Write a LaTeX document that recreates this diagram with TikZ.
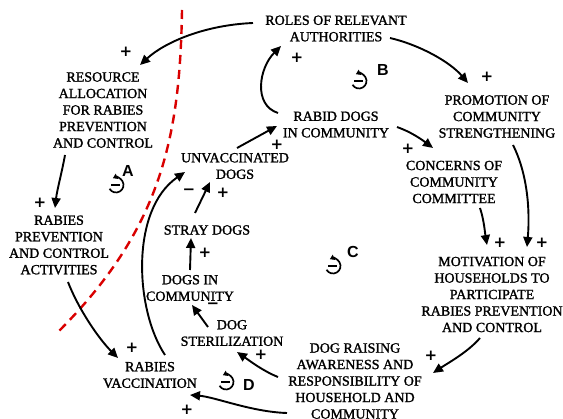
\documentclass[tikz,border=0pt]{standalone}
\usepackage{fontspec}
\setmainfont{Liberation Serif}
\newfontfamily\boxfont[FakeBold=1.5]{Liberation Serif}
\newfontfamily\lblfont{Liberation Sans}
\newfontfamily\sgnfont{DejaVu Sans}
\usetikzlibrary{arrows.meta}
\begin{document}
\begin{tikzpicture}[x=1pt,y=-1pt,
  box/.style={align=center,inner sep=0pt,font=\boxfont\fontsize{14}{16.5}\selectfont,text=black},
  arr/.style={line width=1.9pt,-{Triangle[length=10pt,width=9pt]}},
  sgn/.style={font=\sgnfont\bfseries\fontsize{15}{15}\selectfont,inner sep=0pt},
  lp/.style={font=\lblfont\bfseries\fontsize{16}{16}\selectfont,inner sep=0pt},
  loopsym/.pic={
    \draw[line width=1.7pt,-{Triangle[length=4.5pt,width=5.5pt]}] (150:7.5) arc[start angle=150,end angle=-115,radius=7.5];
    \draw[line width=2pt] (-5,0.5) -- (3.5,0.5);
  }
]
\useasboundingbox (0,0) rectangle (563,419);

% red dashed divider
\draw[red!85!black,line width=2.4pt,dash pattern=on 9pt off 6pt] (182,10) .. controls (180,140) and (160,230) .. (58,332);

% nodes
\node[box] (roles) at (336,28.5) {ROLES OF RELEVANT\\AUTHORITIES};
\node[box] (resource) at (103,110) {RESOURCE\\ALLOCATION\\FOR RABIES\\PREVENTION\\AND CONTROL};
\node[box] (activities) at (59,245) {RABIES\\PREVENTION\\AND CONTROL\\ACTIVITIES};
\node[box] (unvacc) at (235,166) {UNVACCINATED\\DOGS};
\node[box] (rabid) at (336,124.5) {RABID DOGS\\IN COMMUNITY};
\node[box] (promotion) at (497,116.5) {PROMOTION OF\\COMMUNITY\\STRENGTHENING};
\node[box] (concerns) at (454,182) {CONCERNS OF\\COMMUNITY\\COMMITTEE};
\node[box] (motivation) at (492,294.5) {MOTIVATION OF\\HOUSEHOLDS TO\\PARTICIPATE\\RABIES PREVENTION\\AND CONTROL};
\node[box] (dograise) at (355,381) {DOG RAISING\\AWARENESS AND\\RESPONSIBILITY OF\\HOUSEHOLD AND\\COMMUNITY};
\node[box] (vaccination) at (150,375) {RABIES\\VACCINATION};
\node[box] (stray) at (207,230) {STRAY DOGS};
\node[box] (dogsin) at (190,288) {DOGS IN\\COMMUNITY};
\node[box] (steril) at (232,333) {DOG\\STERILIZATION};

% connectors
\draw[arr] ([shift={(-83,-5.5)}]roles.center) .. controls +(-48,2) and +(25,-23) .. ([shift={(37,-45)}]resource.center);
\draw[arr] ([shift={(54,9.5)}]roles.center) .. controls +(30,7) and +(-18,-21) .. ([shift={(-29,-33.5)}]promotion.center);
\draw[arr] ([shift={(-58,-11.5)}]rabid.center) .. controls +(-25,-8) and +(-22,22) .. ([shift={(-55,17.5)}]roles.center);
\draw[arr] ([shift={(2,-18)}]unvacc.center) -- ([shift={(-59,1.5)}]rabid.center);
\draw[arr] ([shift={(61,2.5)}]rabid.center) .. controls +(14,5) and +(-12,-9) .. ([shift={(-21,-34)}]concerns.center);
\draw[arr] ([shift={(16,28.5)}]promotion.center) .. controls +(15,30) and +(3,-35) .. ([shift={(35,-47.5)}]motivation.center);
\draw[arr] ([shift={(26,26)}]concerns.center) .. controls +(4,12) and +(-2,-12) .. ([shift={(-5,-49.5)}]motivation.center);
\draw[arr] ([shift={(-12,43.5)}]motivation.center) .. controls +(-12,14) and +(15,-10) .. ([shift={(78,-8)}]dograise.center);
\draw[arr] ([shift={(-77,-4)}]dograise.center) .. controls +(-15,-6) and +(13,9) .. ([shift={(5,19)}]steril.center);
\draw[arr] ([shift={(-68,32)}]dograise.center) .. controls +(-35,-1) and +(25,2) .. ([shift={(40,20)}]vaccination.center);
\draw[arr] ([shift={(-24,-6)}]steril.center) -- ([shift={(2,17)}]dogsin.center);
\draw[arr] ([shift={(0,-18)}]dogsin.center) -- ([shift={(-16,8)}]stray.center);
\draw[arr] ([shift={(-12,-17)}]stray.center) -- ([shift={(-25,16)}]unvacc.center);
\draw[arr] ([shift={(15,-20)}]vaccination.center) .. controls +(-30,-45) and +(-55,38) .. ([shift={(-50,6)}]unvacc.center);
\draw[arr] ([shift={(9,37)}]activities.center) .. controls +(10,26) and +(-20,-20) .. ([shift={(-32,-17)}]vaccination.center);
\draw[arr] ([shift={(-38,45)}]resource.center) .. controls +(-3,17) and +(2,-18) .. ([shift={(-4,-37)}]activities.center);

% polarity signs
\node[sgn] (s1) at (126,52) {+};
\node[sgn] (s2) at (297,58) {+};
\node[sgn] (s3) at (487,77) {+};
\node[sgn] (s4) at (40,203) {+};
\node[sgn] (s5) at (277,145) {+};
\node[sgn] (s6) at (408,149) {+};
\node[sgn] (s7) at (189,192) {−};
\node[sgn] (s8) at (223,193) {+};
\node[sgn] (s9) at (205,253) {+};
\node[sgn] (s10) at (213,306) {−};
\node[sgn] (s11) at (261,355) {+};
\node[sgn] (s12) at (132,348) {+};
\node[sgn] (s13) at (187,410) {+};
\node[sgn] (s14) at (500,243) {+};
\node[sgn] (s15) at (542,243) {+};
\node[sgn] (s16) at (431,356) {+};

% loop markers
\pic at (116,185) {loopsym};
\node[lp] (la) at (128,171) {A};
\pic at (359,81) {loopsym};
\node[lp] (lb) at (383,70) {B};
\pic at (333,266) {loopsym};
\node[lp] (lc) at (353,252) {C};
\pic at (226,382) {loopsym};
\node[lp] (ld) at (249,385) {D};
\end{tikzpicture}
\end{document}
